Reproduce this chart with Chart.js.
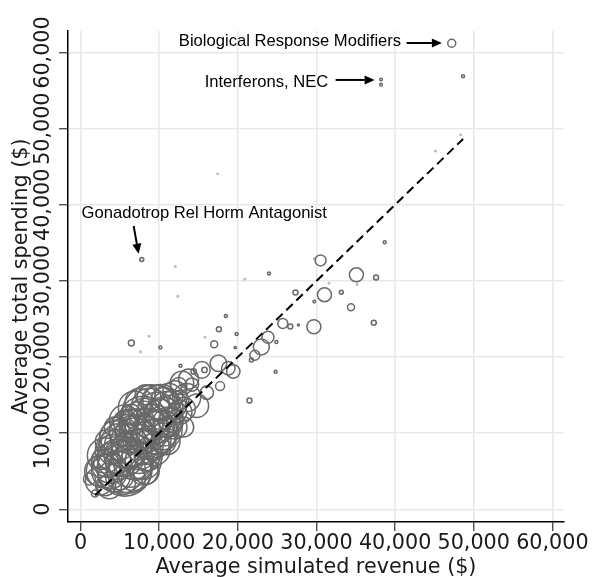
<!DOCTYPE html>
<html>
<head>
<meta charset="utf-8">
<script src="https://cdn.jsdelivr.net/npm/chart.js@4.4.1/dist/chart.umd.min.js"></script>
<style>
  html, body { margin: 0; padding: 0; background: #fff; }
</style>
</head>
<body>
<canvas id="chart" width="595" height="577"></canvas>
<script>
// average simulated revenue ($), average total spending ($), weight (bubble area) per drug class
const revenue = [
  47200, 38210, 38210, 48640, 48330, 45140, 38680, 30520, 35080, 37580,
  33160, 27330, 31020, 29720, 34390, 37290, 29670, 26670, 27700, 25720,
  31590, 35180, 29720, 7780, 12040, 23960, 20890, 12360, 18470, 17590,
  17440, 6460, 8700, 7630, 10150, 19840, 15830, 16990, 19670, 12700,
  21730, 21480, 24900, 24800, 23830, 22990, 22160,
  12480, 14160, 15420, 14380, 17530, 18790, 17740, 16050, 19420, 12900,
  13110, 15760, 14790, 13110,
  1830, 2400, 2900, 3090, 3660, 3910, 4290, 4670, 4920, 5170,
  5550, 5610, 5740, 6180, 6430, 6680, 6940, 7190, 7440, 7690,
  7940, 8200, 8450, 9020, 8950, 9210, 9460, 9710, 9960, 10210,
  10470, 10720, 10970, 11220, 11480, 11730, 11980, 12230, 13490, 13740,
  1130, 6180, 3400, 4290, 6430, 7440, 8700, 8070, 8450, 10590, 13110,
  4070, 4820, 5450, 5950, 6580, 7090, 7590, 8100, 8600, 9100,
  9610, 10110, 10610, 11120, 4950, 3440, 6710, 8350, 9730, 11490,
  12500, 5700, 2680, 7340, 10360,
  3690, 4700, 5830, 6840, 7840, 8850, 9860, 6330, 7970, 9350,
  10990, 12000, 12630, 4450, 5580, 6840, 8220, 2430, 3190, 5450
];
const spending = [
  61220, 56460, 55780, 56890, 49200, 47070, 35070, 32690, 30800, 30460,
  28510, 28470, 28190, 27280, 26550, 24520, 23980, 24000, 24200, 24410,
  29690, 29560, 32910, 32820, 31890, 30980, 30240, 27970, 25390, 23650,
  44050, 21840, 22720, 20680, 21240, 23040, 22590, 21690, 21240, 18850,
  19600, 14290, 21970, 18060, 22610, 21330, 20240,
  16220, 16380, 18310, 18110, 19180, 18530, 16180, 15320, 18110, 16600,
  15960, 18310, 13600, 13170,
  2060, 3730, 5020, 7080, 2960, 6050, 4380, 7590, 8880, 5280,
  6950, 5340, 8940, 7850, 10170, 6560, 8880, 10810, 7590, 9910,
  11710, 8240, 10420, 12480, 9140, 11450, 10170, 12740, 10810, 14030,
  12100, 10170, 13380, 14670, 11710, 13770, 15320, 12740, 14670, 17120,
  3990, 5020, 8880, 10810, 12480, 14030, 14670, 5020, 6560, 8880, 10810,
  7850, 6050, 10170, 7340, 11460, 6050, 9140, 12490, 6950, 10690,
  8500, 12490, 14290, 11460, 4380, 6050, 3990, 5020, 9530, 13390,
  14290, 11460, 6570, 7850, 10430,
  5020, 6570, 8240, 9910, 11460, 13390, 14030, 5670, 6310, 7850,
  8880, 10820, 12750, 9530, 11720, 13390, 15060, 5020, 3090, 3480
];
const weight = [
  160, 17, 17, 22, 6, 6, 22, 302, 490, 62,
  40, 62, 490, 17, 122, 62, 490, 62, 10, 250,
  6, 6, 6, 40, 6, 22, 6, 6, 22, 62,
  4, 90, 6, 6, 22, 22, 6, 122, 14, 22,
  40, 62, 22, 22, 360, 640, 250,
  689, 449, 689, 73, 689, 449, 203, 449, 449, 1369,
  73, 73, 1369, 1369,
  122, 1960, 2890, 3063, 1440, 4000, 2560, 4840, 3240, 5760,
  4000, 7563, 7023, 3240, 4840, 4000, 5760, 3240, 4840, 4000,
  5760, 3240, 4840, 8703, 4000, 3240, 4840, 4000, 2560, 3240,
  4000, 1960, 2560, 1960, 1440, 1960, 1440, 1000, 1960, 1000,
  360, 4840, 1440, 1000, 1000, 1960, 1440, 1960, 1440, 1440, 1000,
  2250, 1690, 1960, 2560, 1690, 2890, 2250, 2560, 1960, 2890,
  1690, 2250, 1690, 2250, 1960, 1960, 1440, 1690, 3240, 1440,
  1000, 1440, 1000, 4000, 4000,
  3240, 4000, 4840, 3610, 4410, 3610, 2890, 4410, 3240, 2560,
  1690, 1440, 1440, 2560, 2250, 2560, 1000, 2250, 1000, 1440
];

// 45-degree reference line (spending = revenue)
const equalityLine = [1850, 48650];

const xTicks = [0, 10000, 20000, 30000, 40000, 50000, 60000];
const yTicks = [0, 10000, 20000, 30000, 40000, 50000, 60000];

// labelled drug classes
const noteText = ['Biological Response Modifiers', 'Interferons, NEC', 'Gonadotrop Rel Horm Antagonist'];
const noteX = [12500, 15780, 130];
const noteY = [60810, 55530, 38200];
const arrowFromX = [41460, 32430, 6750];
const arrowFromY = [61250, 56400, 37210];
const arrowToX = [45950, 37390, 7380];
const arrowToY = [61250, 56400, 33570];

const GRAY = 'rgb(105,105,105)';
const FONT = 'DejaVu Sans';
const fmt = v => v.toLocaleString('en-US');

const bubbles = revenue.map((x, i) => ({ x: x, y: spending[i], r: Math.sqrt(weight[i] / 10) }));

function drawArrow(ctx, x1, y1, x2, y2) {
    const ang = Math.atan2(y2 - y1, x2 - x1);
    const head = 10, half = 4.5;
    const bx = x2 - head * Math.cos(ang), by = y2 - head * Math.sin(ang);
    ctx.beginPath();
    ctx.moveTo(x1, y1);
    ctx.lineTo(bx, by);
    ctx.stroke();
    ctx.beginPath();
    ctx.moveTo(x2, y2);
    ctx.lineTo(bx + half * Math.sin(ang), by - half * Math.cos(ang));
    ctx.lineTo(bx - half * Math.sin(ang), by + half * Math.cos(ang));
    ctx.closePath();
    ctx.fill();
}

// y tick labels (rotated), axis titles and notes
const extras = {
    id: 'extras',
    afterDraw(chart) {
        const ctx = chart.ctx;
        const xs = chart.scales.x, ys = chart.scales.y;
        const area = chart.chartArea;
        ctx.save();
        ctx.fillStyle = '#1a1a1a';
        ctx.font = '20.7px "' + FONT + '"';
        ctx.textAlign = 'center';
        ctx.textBaseline = 'alphabetic';
        ys.ticks.forEach(t => {
            ctx.save();
            ctx.translate(48.5, ys.getPixelForValue(t.value));
            ctx.rotate(-Math.PI / 2);
            ctx.fillText(fmt(t.value), 0, 0);
            ctx.restore();
        });
        ctx.save();
        ctx.translate(26.5, (area.top + area.bottom) / 2);
        ctx.rotate(-Math.PI / 2);
        ctx.fillText('Average total spending ($)', 0, 0);
        ctx.restore();
        ctx.fillText('Average simulated revenue ($)', (area.left + area.right) / 2, 573);

        ctx.fillStyle = '#000';
        ctx.strokeStyle = '#000';
        ctx.lineWidth = 2;
        ctx.font = '16.6px "Liberation Sans"';
        ctx.textAlign = 'left';
        noteText.forEach((txt, i) => {
            ctx.fillText(txt, xs.getPixelForValue(noteX[i]), ys.getPixelForValue(noteY[i]));
            drawArrow(ctx,
                xs.getPixelForValue(arrowFromX[i]), ys.getPixelForValue(arrowFromY[i]),
                xs.getPixelForValue(arrowToX[i]), ys.getPixelForValue(arrowToY[i]));
        });
        ctx.restore();
    }
};

new Chart(document.getElementById('chart'), {
    type: 'bubble',
    data: {
        datasets: [{
            type: 'line',
            data: equalityLine.map(v => ({ x: v, y: v })),
            borderColor: '#000',
            borderWidth: 2,
            borderDash: [9, 5],
            pointRadius: 0,
            fill: false,
            order: 0
        }, {
            type: 'bubble',
            data: bubbles,
            backgroundColor: 'rgba(0,0,0,0)',
            borderColor: c => (c.raw && c.raw.r < 1) ? 'rgba(105,105,105,0.45)' : GRAY,
            borderWidth: 1.5,
            order: 1
        }]
    },
    options: {
        responsive: false,
        animation: false,
        events: [],
        layout: { padding: { top: 21, right: 26, left: 0, bottom: 0 } },
        plugins: { legend: { display: false }, tooltip: { enabled: false } },
        scales: {
            x: {
                type: 'linear',
                min: -1600,
                max: 61480,
                afterBuildTicks: axis => { axis.ticks = xTicks.map(v => ({ value: v })); },
                afterFit: axis => { axis.height = 55; },
                ticks: {
                    font: { family: FONT, size: 20.7 },
                    color: '#1a1a1a',
                    padding: 0,
                    maxRotation: 0,
                    autoSkip: false,
                    callback: v => fmt(v)
                },
                grid: { color: '#e8e8e8', lineWidth: 1.5, tickLength: 9, tickColor: '#333', tickWidth: 1.2 },
                border: { display: true, color: '#000', width: 1.5 }
            },
            y: {
                type: 'linear',
                min: -1670,
                max: 62830,
                afterBuildTicks: axis => { axis.ticks = yTicks.map(v => ({ value: v })); },
                afterFit: axis => { axis.width = 68; },
                ticks: { display: false },
                grid: { color: '#e8e8e8', lineWidth: 1.5, tickLength: 9, tickColor: '#333', tickWidth: 1.2 },
                border: { display: true, color: '#000', width: 1.5 }
            }
        }
    },
    plugins: [extras]
});
</script>
</body>
</html>
